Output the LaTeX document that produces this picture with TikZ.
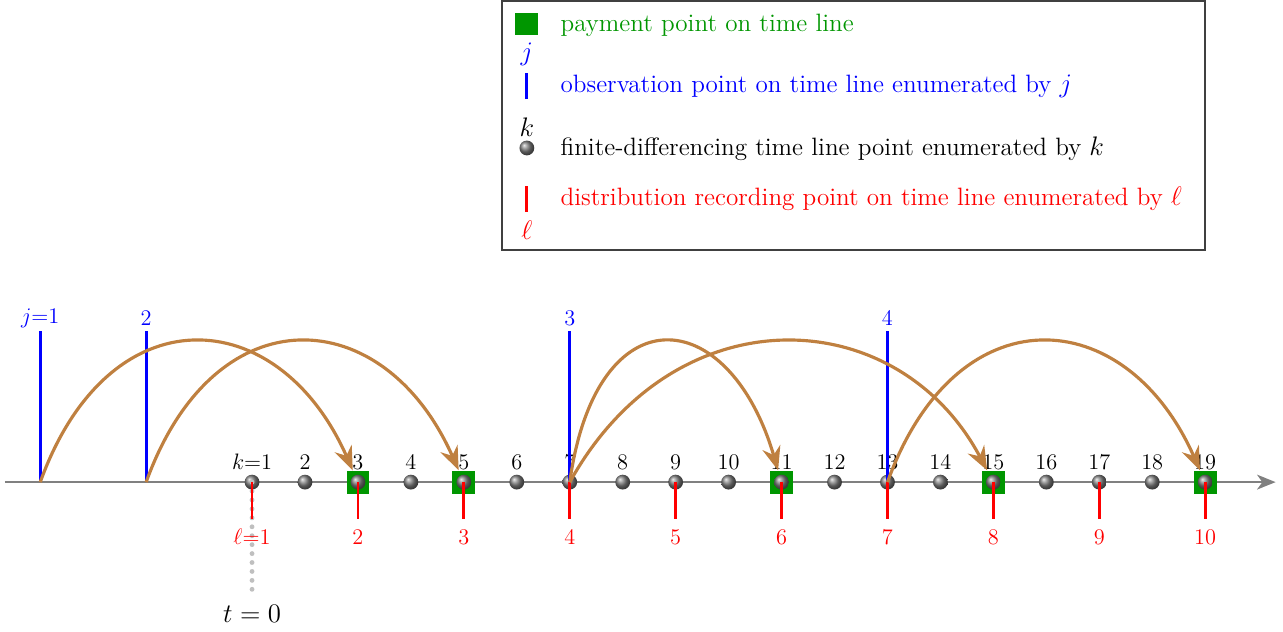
\documentclass[tikz,border=0pt]{standalone}
\usepackage{amsmath}
\usepackage{tikz}
\usetikzlibrary{arrows.meta}
\definecolor{paygreen}{RGB}{0,150,0}

\begin{document}
\begin{tikzpicture}[
  font=\large,
  fdpoint/.style={circle, shading=ball, ball color=gray, minimum size=0.28cm, inner sep=0pt},
  payment/.style={rectangle, fill=paygreen, minimum size=0.43cm, inner sep=0pt},
  obsline/.style={blue, line width=1.5pt},
  recline/.style={red, line width=1.5pt},
  legtext/.style={anchor=west, inner xsep=0pt, font=\fontsize{13.5}{16}\selectfont},
  jump/.style={brown, line width=1.7pt, -{Stealth[length=4.5mm, width=3.5mm, inset=1.5mm]}},
]
\useasboundingbox (-4.76,-2.815) rectangle (19.47,9.105);

% Legend
\node[draw=darkgray, line width=1pt, minimum width=13.28cm, minimum height=4.71cm] (legend) at (11.36,6.735) {};
\node[payment] (lgpay) at (5.19,8.65) {};
\node[legtext, text=paygreen] (lgpaytxt) at (5.82,8.62) {payment point on time line};
\node[text=blue, font=\fontsize{13.5}{16}\selectfont] (lgj) at (5.19,8.07) {$j$};
\coordinate (lgobs) at (5.19,7.48);
\draw[obsline] ([yshift=-0.245cm]lgobs) -- ([yshift=0.245cm]lgobs);
\node[legtext, text=blue] (lgobstxt) at (5.82,7.48) {observation point on time line enumerated by $j$};
\node[font=\fontsize{13.5}{16}\selectfont] (lgk) at (5.19,6.71) {$k$};
\node[fdpoint] (lgfd) at (5.19,6.31) {};
\node[legtext] (lgfdtxt) at (5.82,6.29) {finite-differencing time line point enumerated by $k$};
\coordinate (lgrec) at (5.19,5.35);
\draw[recline] ([yshift=-0.245cm]lgrec) -- ([yshift=0.245cm]lgrec);
\node[legtext, text=red] (lgrectxt) at (5.82,5.35) {distribution recording point on time line enumerated by $\ell$};
\node[text=red, font=\fontsize{13.5}{16}\selectfont] (lgl) at (5.19,4.76) {$\ell$};

% Time line
\coordinate (tlstart) at (-4.67,0);
\coordinate (tlend) at (19.33,0);
\draw[gray, line width=1.1pt, -{Stealth[length=3.5mm, width=2.8mm, inset=1mm]}] (tlstart) -- (tlend);

% Payment points
\foreach \k in {3,5,11,15,19}
  \node[payment] (p\k) at (\k-1,0) {};

% Finite-differencing points
\foreach \k in {1,...,19}
  \node[fdpoint] (k\k) at (\k-1,0) {};
\node (klab1) at (0,0.38) {$k{=}1$};
\foreach \k in {2,...,19}
  \node (klab\k) at (\k-1,0.38) {\k};

% t = 0
\coordinate (tzero) at (0,-2.17);
\draw[gray!50, line width=2.6pt, line cap=round, dash pattern=on 0pt off 4.8pt] (k1.center) -- (tzero);
\node[font=\fontsize{13.5}{16}\selectfont] (tlab) at (0,-2.49) {$t=0$};

% Recording points
\foreach \l in {1,...,10} {
  \pgfmathtruncatemacro\k{2*\l-1}
  \coordinate (r\l) at (\k-1,-0.7);
  \draw[recline] (k\k.center) -- (r\l);
}
\node[text=red] (llab1) at (0,-1.04) {$\ell{=}1$};
\foreach \l in {2,...,10}
  \node[text=red] (llab\l) at (2*\l-2,-1.04) {\l};

% Observation points
\coordinate (j1) at (-4,0);
\coordinate (j2) at (-2,0);
\coordinate (j3) at (6,0);
\coordinate (j4) at (12,0);
\foreach \j in {1,...,4}
  \draw[obsline] (j\j) -- ++(0,2.85);
\node[text=blue] (jlab1) at (-4,3.10) {$j{=}1$};
\node[text=blue] (jlab2) at (-2,3.10) {2};
\node[text=blue] (jlab3) at (6,3.10) {3};
\node[text=blue] (jlab4) at (12,3.10) {4};

% Jumps to payment points
\draw[jump] (j1) .. controls +(1.3,3.6) and +(-1.5,3.4) .. (p3);
\draw[jump] (j2) .. controls +(1.3,3.6) and +(-1.5,3.4) .. (p5);
\draw[jump] (j3) .. controls +(0.5,3.6) and +(-1.0,3.4) .. (p11);
\draw[jump] (j3) .. controls +(2.0,3.6) and +(-1.8,3.4) .. (p15);
\draw[jump] (j4) .. controls +(1.3,3.6) and +(-1.5,3.4) .. (p19);
\end{tikzpicture}
\end{document}
